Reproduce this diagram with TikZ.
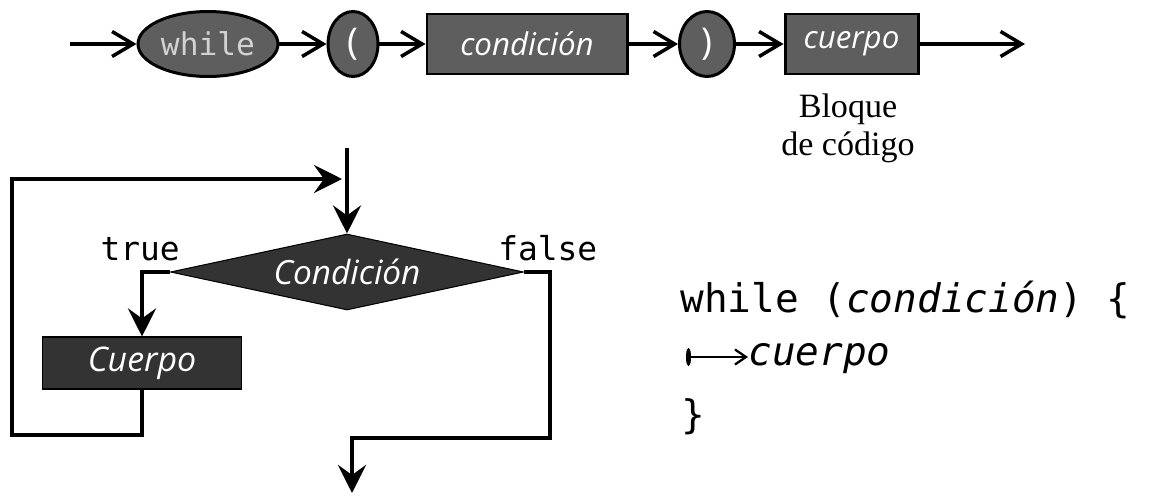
\documentclass[tikz,border=0pt]{standalone}
\usepackage{fontspec}
\setmainfont{Liberation Serif}
\newfontfamily\mono{DejaVu Sans Mono}
\newfontfamily\sans{Open Sans}
\usetikzlibrary{shapes.geometric,arrows.meta}
\definecolor{grismedio}{HTML}{5E5E5E}
\definecolor{grisoscuro}{HTML}{333333}
\definecolor{grisclaro}{HTML}{D2D2D2}

\begin{document}
\begin{tikzpicture}[
      ovalo/.style={ellipse, draw, line width=1.7pt, fill=grismedio, inner sep=0pt, minimum height=1.3cm},
      caja/.style={draw, line width=1.7pt, fill=grismedio, minimum height=1.2cm, inner sep=0pt, text=white, font=\sans\itshape\fontsize{17.8}{20}\selectfont},
      flecha/.style={line width=2pt, -{Straight Barb[length=0.42cm, width=0.5cm]}},
      flujo/.style={line width=2.8pt, -{Stealth[length=0.56cm, width=0.56cm, inset=0.2cm]}},
      etiqueta/.style={inner sep=0pt, font=\mono\fontsize{18.7}{22}\selectfont},
      codigo/.style={inner sep=0pt, font=\mono\fontsize{22.4}{26}\selectfont}
    ]
      \useasboundingbox (0,0) rectangle (22.98,-9.9);

      % sintaxis
      \coordinate (inicio) at (1.4,-0.88);
      \node[ovalo, minimum width=2.8cm, text=grisclaro, font=\mono\fontsize{17.8}{20}\selectfont] (palabra) at (4.16,-0.88) {while};
      \node[ovalo, minimum width=1.0cm, text=white, font=\sans\fontsize{21}{24}\selectfont] (abre) at (7.06,-0.88) {(};
      \node[caja, minimum width=4.0cm] (cond) at (10.54,-0.88) {condición};
      \node[ovalo, minimum width=1.1cm, text=white, font=\sans\fontsize{21}{24}\selectfont] (cierra) at (14.14,-0.88) {)};
      \node[caja, minimum width=2.66cm] (cuerpo) at (17.03,-0.88) {cuerpo};
      \coordinate (final) at (20.5,-0.88);
      \node[align=center, font=\fontsize{19.4}{21.5}\selectfont] (nota) at (16.96,-2.56) {Bloque\\de código};

      \draw[flecha] (inicio) -- (palabra);
      \draw[flecha] (palabra) -- (abre);
      \draw[flecha] (abre) -- (cond);
      \draw[flecha] (cond) -- (cierra);
      \draw[flecha] (cierra) -- (cuerpo);
      \draw[flecha] (cuerpo) -- (final);

      % diagrama de flujo
      \coordinate (entrada) at (6.94,-2.96);
      \node[diamond, draw, line width=0.6pt, fill=grisoscuro, aspect=4.6, minimum width=7.06cm, minimum height=1.52cm, inner sep=0pt, text=white, font=\sans\itshape\fontsize{19}{22}\selectfont] (decision) at (6.94,-5.44) {Condición};
      \node[draw, line width=0.6pt, fill=grisoscuro, minimum width=3.98cm, minimum height=1.04cm, text=white, font=\sans\itshape\fontsize{19.3}{22}\selectfont] (bloque) at (2.84,-7.26) {Cuerpo};
      \node[etiqueta, anchor=base east] (verdad) at (3.6,-5.2) {true};
      \node[etiqueta, anchor=base west] (falso) at (9.96,-5.2) {false};
      \coordinate (codoizq) at (0.24,-8.7);
      \coordinate (union) at (6.84,-3.58);
      \coordinate (cododer) at (11.0,-8.76);
      \coordinate (salida) at (7.04,-9.86);

      \draw[flujo] (entrada) -- (decision.north);
      \draw[flujo] (decision.west) -| (bloque.north);
      \draw[flujo] (bloque.south) |- (codoizq) |- (union);
      \draw[flujo] (decision.east) -| (cododer) -| (salida);

      % codigo
      \node[codigo, anchor=base west] (linea1) at (13.6,-6.24) {while (\textit{condición}) \{};
      \node[codigo, anchor=base west] (linea2) at (14.96,-7.3) {\itshape cuerpo};
      \node[codigo, anchor=base west] (linea3) at (13.62,-8.56) {\}};
      \coordinate (tab) at (13.72,-7.14);
      \draw[line width=1.3pt, {Ellipse[length=0.1cm, width=0.34cm]}-{Straight Barb[length=0.22cm, width=0.3cm]}] (tab) -- (linea2.west |- tab);
    \end{tikzpicture}
\end{document}
